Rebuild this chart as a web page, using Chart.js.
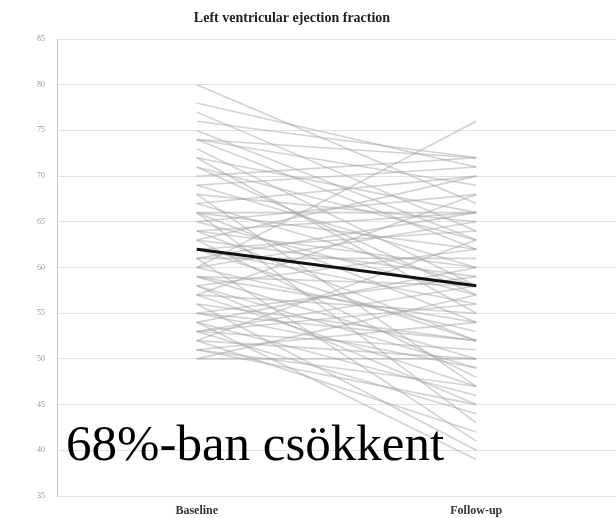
<!DOCTYPE html>
<html>
<head>
<meta charset="utf-8">
<script src="https://cdn.jsdelivr.net/npm/chart.js@4.4.1/dist/chart.umd.min.js"></script>
<style>
  html, body { margin: 0; padding: 0; background: #fff; }
  #wrap { width: 616px; height: 518px; }
</style>
</head>
<body>
<div id="wrap"><canvas id="c" width="616" height="518"></canvas></div>
<script>
// Time points on the x axis
const timepoints = ['Baseline', 'Follow-up'];

// LVEF (%) per patient at baseline and at follow-up
const baseline = [80, 78, 77, 76, 74, 74, 74, 73, 72, 72,
                  71, 70, 69, 68, 68, 67, 66, 66, 66, 65,
                  65, 64, 64, 63, 63, 62, 62, 61, 61, 60,
                  60, 60, 59, 59, 58, 58, 57, 57, 56, 56,
                  55, 55, 54, 54, 54, 53, 53, 53, 52, 52,
                  52, 51, 51, 50, 50, 61, 63, 58, 67, 69,
                  75, 71, 64, 59, 57, 55, 53, 51, 66, 62];
const followUp = [67, 71, 64, 72, 72, 62, 69, 58, 66, 55,
                  63, 72, 60, 47, 65, 70, 54, 62, 43, 68,
                  57, 52, 66, 59, 48, 64, 56, 41, 61, 76,
                  53, 65, 50, 58, 62, 45, 55, 68, 40, 52,
                  59, 49, 46, 60, 39, 56, 51, 44, 63, 50,
                  42, 54, 47, 50, 57, 66, 70, 49, 58, 71,
                  63, 57, 60, 54, 47, 52, 58, 45, 66, 52];

// Group mean at each time point
const meanLine = [62, 58];

// Y axis range and step
const yMin = 35, yMax = 85, yStep = 5;

const datasets = [{
  label: 'Mean',
  data: meanLine,
  borderColor: '#111',
  borderWidth: 3.2,
  pointRadius: 0,
  tension: 0
}];
baseline.forEach((b, i) => {
  datasets.push({
    label: 'Patient ' + (i + 1),
    data: [b, followUp[i]],
    borderColor: 'rgba(165,165,165,0.5)',
    borderWidth: 1.6,
    pointRadius: 0,
    tension: 0
  });
});

// Title and annotation text drawn over the chart
const overlay = {
  id: 'overlay',
  afterDraw(chart) {
    const ctx = chart.ctx;
    ctx.save();
    ctx.fillStyle = '#222';
    ctx.font = 'bold 14px "Liberation Serif", serif';
    ctx.textAlign = 'center';
    ctx.textBaseline = 'middle';
    ctx.fillText('Left ventricular ejection fraction', 292, 18);
    ctx.fillStyle = '#000';
    ctx.font = '51px "Liberation Serif", serif';
    ctx.textAlign = 'left';
    ctx.textBaseline = 'alphabetic';
    ctx.fillText('68%-ban csökkent', 66, 460);
    ctx.restore();
  }
};

new Chart(document.getElementById('c'), {
  type: 'line',
  data: { labels: timepoints, datasets },
  options: {
    responsive: false,
    animation: false,
    layout: { padding: { top: 39, right: 0, bottom: 0, left: 0 } },
    plugins: {
      legend: { display: false },
      tooltip: { enabled: false },
      title: { display: false }
    },
    scales: {
      x: {
        type: 'category',
        offset: true,
        grid: { display: false, drawTicks: false },
        border: { display: false },
        ticks: {
          padding: 8,
          color: '#333',
          font: { family: '"Liberation Serif", serif', size: 12, weight: 'bold' }
        },
        afterFit(scale) { scale.height = 22; }
      },
      y: {
        min: yMin,
        max: yMax,
        grid: { color: '#e2e2e2', lineWidth: 1, drawTicks: false },
        border: { display: true, color: '#c8c8c8', width: 1 },
        ticks: {
          stepSize: yStep,
          padding: 12,
          color: '#999',
          font: { family: '"Liberation Serif", serif', size: 8 }
        },
        afterFit(scale) { scale.width = 57; }
      }
    }
  },
  plugins: [overlay]
});
</script>
</body>
</html>
